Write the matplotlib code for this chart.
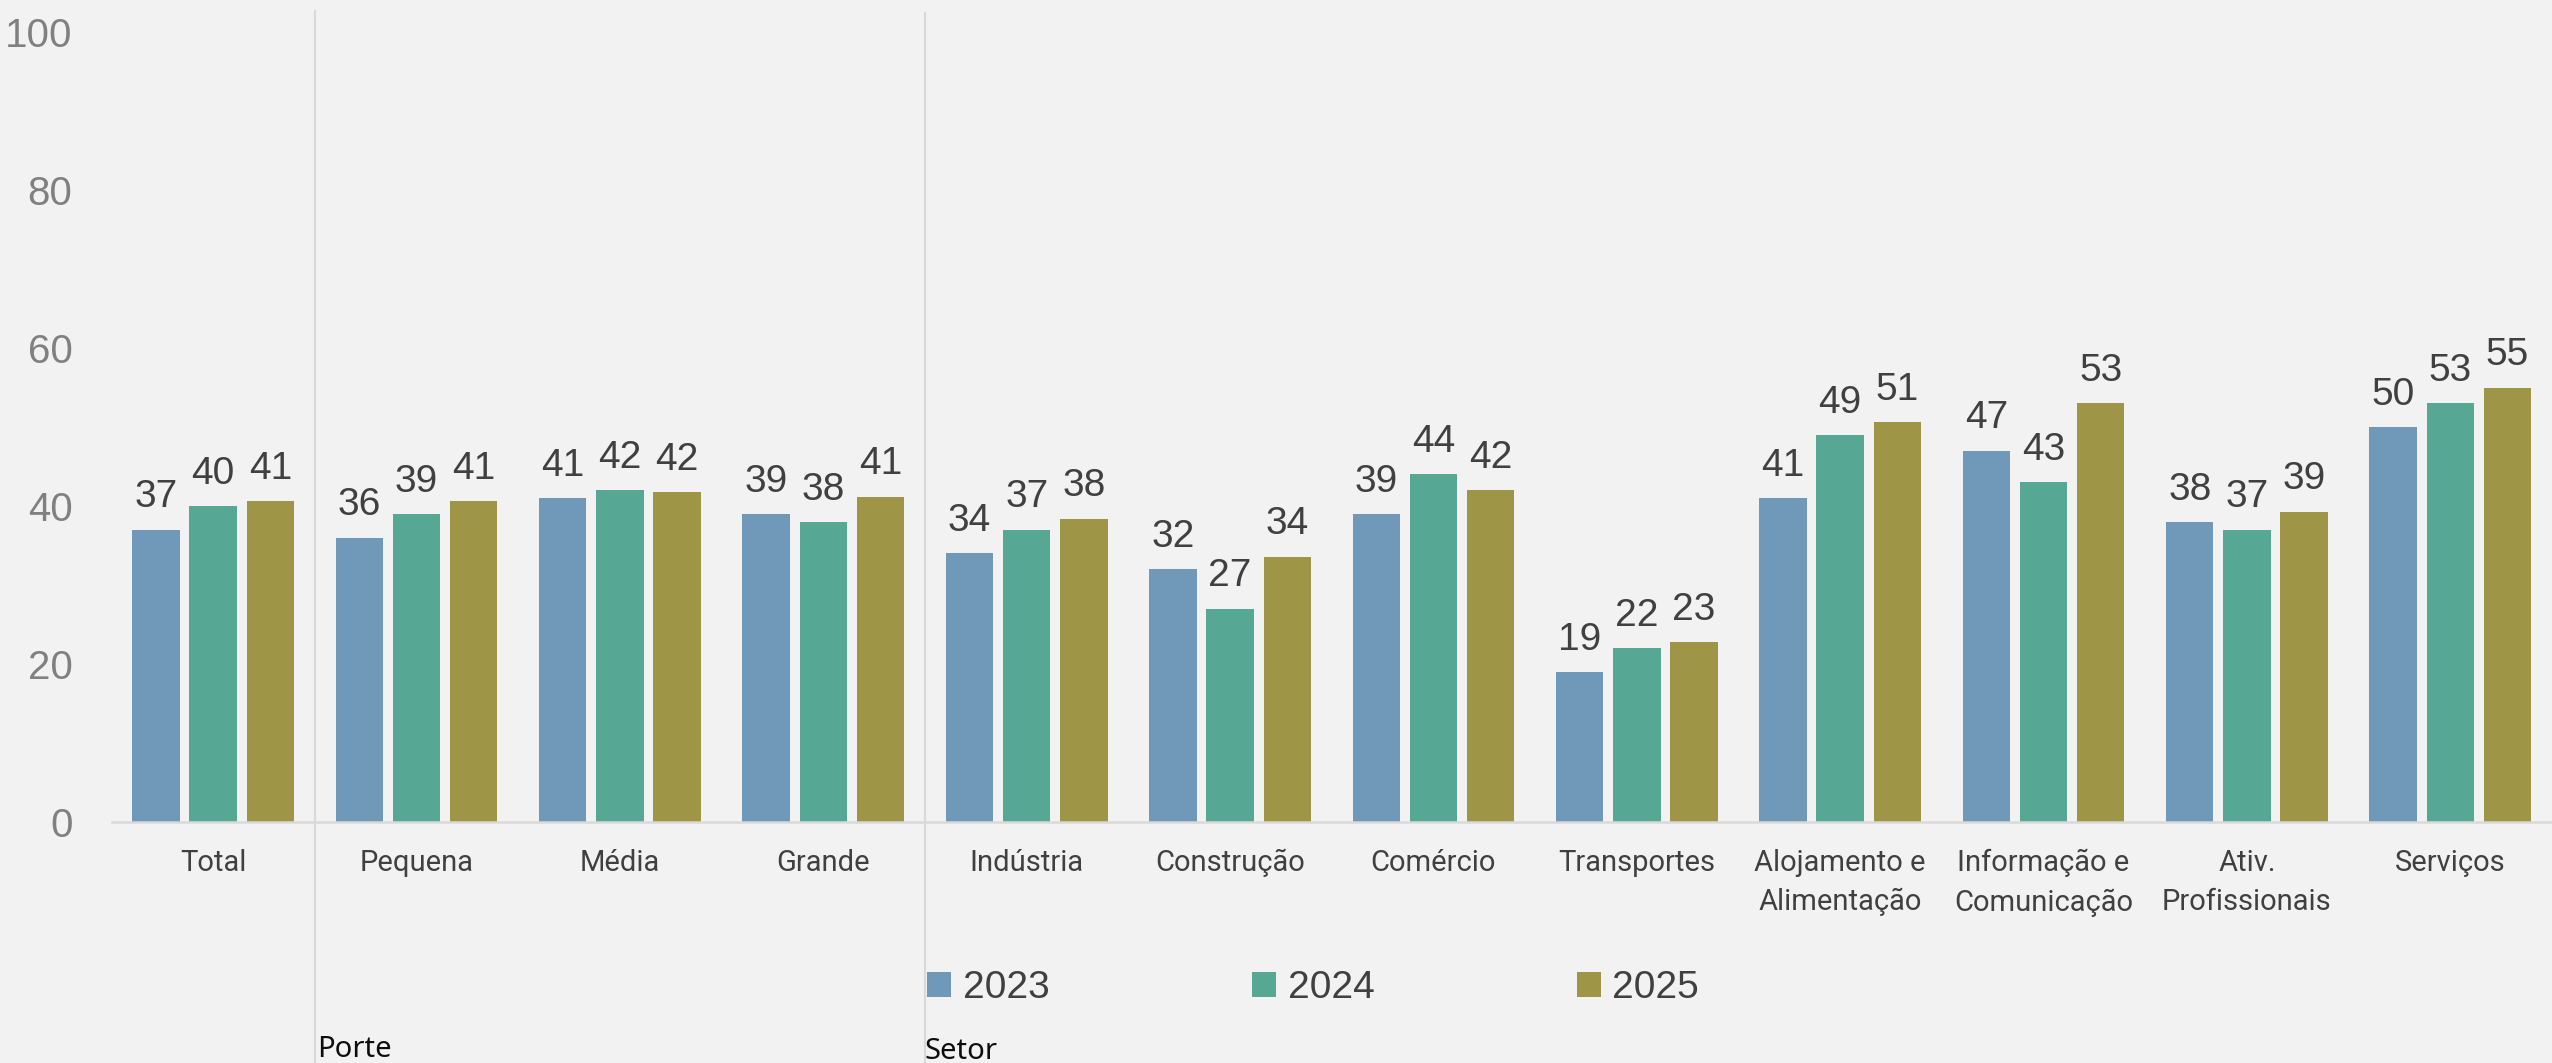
import matplotlib
matplotlib.use("Agg")
import matplotlib.pyplot as plt
import matplotlib.transforms as mtransforms
from matplotlib.font_manager import fontManager
from matplotlib.patches import Patch
import numpy as np

# --- data -------------------------------------------------------------
categories = ["Total", "Pequena", "Média", "Grande", "Indústria", "Construção",
              "Comércio", "Transportes", "Alojamento e\nAlimentação",
              "Informação e\nComunicação", "Ativ.\nProfissionais", "Serviços"]
years = ["2023", "2024", "2025"]
v2023 = [37, 36, 41, 39, 34, 32, 39, 19, 41, 47, 38, 50]
v2024 = [40, 39, 42, 38, 37, 27, 44, 22, 49, 43, 37, 53]
v2025 = [40.6, 40.6, 41.8, 41.2, 38.4, 33.6, 42.0, 22.8, 50.6, 53.0, 39.3, 55.0]
yticks = [0, 20, 40, 60, 80, 100]
group_labels = ["Porte", "Setor"]

colors = ["#7098B8", "#56A895", "#9E9646"]
bg = "#F2F2F2"

installed = {f.name for f in fontManager.ttflist}
narrow = "Liberation Sans Narrow" if "Liberation Sans Narrow" in installed else "Liberation Sans"

W, H = 2552, 1063
fig = plt.figure(figsize=(W / 100, H / 100), dpi=100, facecolor=bg)
ax_left, ax_bottom = 111.5 / W, (H - 822) / H
ax = fig.add_axes([ax_left, ax_bottom, 1 - ax_left, 790 / H])
ax.set_facecolor(bg)

x = np.arange(len(categories))
width = 0.233
offset = 0.281
series = [v2023, v2024, v2025]
for i, (vals, col) in enumerate(zip(series, colors)):
    pos = x + (i - 1) * offset
    ax.bar(pos, vals, width=width, color=col, label=years[i], zorder=2)
    for xb, v in zip(pos, vals):
        ax.annotate(f"{v:.0f}", (xb, v), xytext=(0, 16), textcoords="offset points",
                    ha="center", va="baseline", fontsize=28, family=narrow,
                    color="#404040")

ax.set_xlim(-0.5, len(categories) - 0.5)
ax.set_ylim(0, 100)
ax.set_yticks(yticks)
ax.set_yticklabels([str(t) for t in yticks], family=narrow, fontsize=29, color="#808080")
ax.tick_params(axis="y", length=0, pad=28)
ax.set_xticks(x)
ax.set_xticklabels(categories, family="Roboto", fontsize=21, color="#404040",
                   linespacing=1.5)
ax.tick_params(axis="x", length=0, pad=19.5)

for s in ["top", "right", "left"]:
    ax.spines[s].set_visible(False)
ax.spines["bottom"].set_color("#D9D9D9")
ax.spines["bottom"].set_linewidth(1.8)

# group separators running from the top of the chart to the bottom edge
sep = mtransforms.blended_transform_factory(ax.transData, fig.transFigure)
for xs, ytop in [(0.5, 1 - 11 / H), (3.5, 1 - 13 / H)]:
    ax.plot([xs, xs], [0, ytop], transform=sep, color="#D9D9D9", lw=1.5,
            clip_on=False, zorder=1)

# group names under the separators
fig.text(317 / W, 6 / H, group_labels[0], family="Noto Sans", fontsize=21,
         color="#0D0D0D", ha="left", va="baseline")
fig.text(925 / W, 4 / H, group_labels[1], family="Noto Sans", fontsize=21,
         color="#0D0D0D", ha="left", va="baseline")

handles = [Patch(facecolor=c, edgecolor="none") for c in colors]
fig.legend(handles, years, loc="center left", bbox_to_anchor=(927 / W, (H - 988) / H),
           ncol=3, frameon=False, borderpad=0, borderaxespad=0,
           prop={"family": "Liberation Sans", "size": 28},
           handlelength=0.62, handleheight=0.62, handletextpad=0.3,
           columnspacing=5.2, labelcolor="#404040")

fig.savefig("out.png", dpi=100, facecolor=bg)
